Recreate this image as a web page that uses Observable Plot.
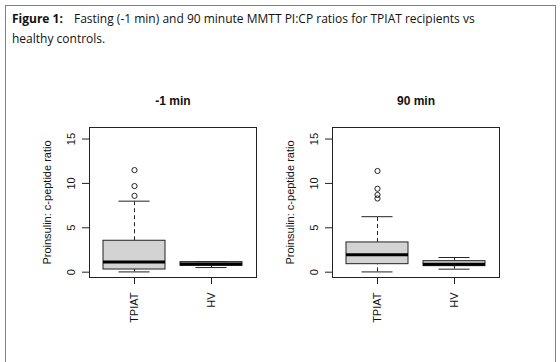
<!DOCTYPE html>
<html><head><meta charset="utf-8">
<script src="https://cdn.jsdelivr.net/npm/d3@7"></script>
<script src="https://cdn.jsdelivr.net/npm/@observablehq/plot@0.6"></script>
<style>
body{margin:0;background:#fff;}
#wrap{position:relative;width:560px;height:362px;overflow:hidden;background:#fff;}
#frame{position:absolute;left:5px;top:5px;width:549px;height:370px;border:1px solid #808080;}
#cap{position:absolute;left:12px;top:9px;font-family:"Open Sans",sans-serif;font-size:12px;line-height:20px;color:#111;white-space:nowrap;}
#cap b{margin-right:8px;}
.panel{position:absolute;top:85px;}
</style></head><body>
<div id="wrap">
<div id="frame"></div>
<div id="cap"><b>Figure 1:</b> Fasting (-1 min) and 90 minute MMTT PI:CP ratios for TPIAT recipients vs<br>healthy controls.</div>
<div class="panel" id="p1" style="left:30px"></div>
<div class="panel" id="p2" style="left:273px"></div>
</div>
<script>
const groups = ["TPIAT", "HV"];
const titles = ["-1 min", "90 min"];
const yLabel = "Proinsulin: c-peptide ratio";
const yTicks = [0, 5, 10, 15];

// -1 min
const lo_m1  = [0.03, 0.52];
const q1_m1  = [0.30, 0.71];
const med_m1 = [1.16, 0.93];
const q3_m1  = [3.54, 1.13];
const hi_m1  = [8.0, 1.20];
const out_m1_TPIAT = [11.5, 9.7, 8.6];

// 90 min
const lo_90  = [0.03, 0.34];
const q1_90  = [0.90, 0.68];
const med_90 = [1.95, 0.90];
const q3_90  = [3.35, 1.24];
const hi_90  = [6.25, 1.65];
const out_90_TPIAT = [11.4, 9.4, 8.7, 8.3];

function rowsOf(lo, q1, med, q3, hi) {
  return groups.map((g, i) => ({group: g, lo: lo[i], q1: q1[i], med: med[i], q3: q3[i], hi: hi[i]}));
}

function panel(title, rows, outliers) {
  const W = 235, ML = 59, MR = 9;
  const plotW = W - ML - MR;
  const paddingInner = 0.2, paddingOuter = 0.18;
  const step = plotW / (groups.length - paddingInner + 2 * paddingOuter);
  const bw = step * (1 - paddingInner);
  const capInset = bw / 4;
  const dash = "4,3";
  const ink = "#222";
  const font = "Liberation Sans";
  return Plot.plot({
    width: W, height: 250,
    marginLeft: ML, marginRight: MR, marginTop: 42, marginBottom: 58,
    style: {fontFamily: font, fontSize: "11px", color: "#222", background: "transparent", overflow: "visible"},
    x: {type: "band", domain: groups, paddingInner, paddingOuter, tickSize: 7, tickFormat: () => "", label: null},
    y: {domain: [-0.6, 16.3], ticks: yTicks, tickSize: 7, tickFormat: () => "", label: null},
    marks: [
      Plot.ruleX(rows, {x: "group", y1: "q3", y2: "hi", stroke: ink, strokeDasharray: dash}),
      Plot.ruleX(rows, {x: "group", y1: "lo", y2: "q1", stroke: ink, strokeDasharray: dash}),
      Plot.tickY(rows, {x: "group", y: "hi", stroke: ink, insetLeft: capInset, insetRight: capInset}),
      Plot.tickY(rows, {x: "group", y: "lo", stroke: ink, insetLeft: capInset, insetRight: capInset}),
      Plot.barY(rows, {x: "group", y1: "q1", y2: "q3", fill: "#d3d3d3", stroke: ink, strokeWidth: 1}),
      Plot.tickY(rows, {x: "group", y: "med", stroke: "#000", strokeWidth: 3}),
      Plot.dot(outliers.map(v => ({group: "TPIAT", value: v})), {x: "group", y: "value", r: 2.6, stroke: ink, fill: "none", strokeWidth: 1}),
      Plot.frame({stroke: ink}),
      Plot.text(yTicks, {y: d => d, text: d => String(d), frameAnchor: "left", dx: -18, rotate: -90, textAnchor: "middle", lineAnchor: "middle", fill: "#111", fontFamily: font, fontSize: 11}),
      Plot.text(groups, {x: d => d, text: d => d, frameAnchor: "bottom", dy: 15, rotate: -90, textAnchor: "end", lineAnchor: "middle", fill: "#111", fontFamily: font, fontSize: 11}),
      Plot.text([yLabel], {text: d => d, frameAnchor: "left", dx: -42, rotate: -90, textAnchor: "middle", lineAnchor: "middle", fill: "#111", fontFamily: font, fontSize: 11}),
      Plot.text([title], {text: d => d, frameAnchor: "top", dy: -26, textAnchor: "middle", lineAnchor: "middle", fontWeight: "bold", fontSize: 12, fill: "#111", fontFamily: font})
    ]
  });
}

document.getElementById("p1").appendChild(panel(titles[0], rowsOf(lo_m1, q1_m1, med_m1, q3_m1, hi_m1), out_m1_TPIAT));
document.getElementById("p2").appendChild(panel(titles[1], rowsOf(lo_90, q1_90, med_90, q3_90, hi_90), out_90_TPIAT));
</script>
</body></html>
